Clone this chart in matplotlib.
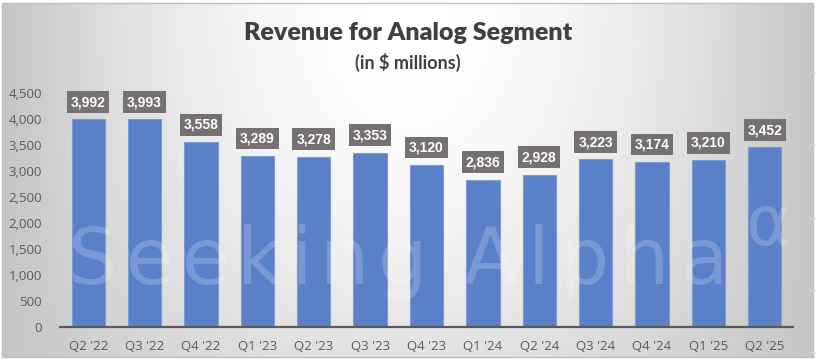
import numpy as np
import matplotlib
matplotlib.use("Agg")
from matplotlib import pyplot as plt

quarters = ["Q2 '22", "Q3 '22", "Q4 '22", "Q1 '23", "Q2 '23", "Q3 '23", "Q4 '23",
            "Q1 '24", "Q2 '24", "Q3 '24", "Q4 '24", "Q1 '25", "Q2 '25"]
revenue = [3992, 3993, 3558, 3289, 3278, 3353, 3120, 2836, 2928, 3223, 3174, 3210, 3452]
yticks = list(range(0, 4501, 500))

W, H = 816, 363
fig = plt.figure(figsize=(W / 100, H / 100), dpi=100)
fig.patch.set_facecolor("white")

# faint spreadsheet cell lines outside the chart
for yy in [0.03, 0.20, 0.40, 0.60, 0.80]:
    fig.add_artist(plt.Line2D([0.993, 1.0], [yy, yy], color="#d9d9d9", lw=0.8))

# chart area with gradient fill
bg = fig.add_axes([2 / W, 6 / H, 811 / W, 354 / H])
u = np.linspace(-1, 1, 400)[None, :]
v = np.linspace(0, 1, 200)[:, None]
shade = 0.77 + 0.23 * (1 - np.abs(u) ** 1.8) * (1 - 0.5 * v ** 2)
bg.imshow(shade, cmap="gray", vmin=0, vmax=1, aspect="auto",
          extent=[0, 1, 0, 1], origin="upper")
bg.set_xlim(0, 1)
bg.set_ylim(0, 1)
bg.set_xticks([])
bg.set_yticks([])
for s in bg.spines.values():
    s.set_color("#bfbfbf")
    s.set_linewidth(1)

ax = fig.add_axes([60 / W, (H - 327) / H, 733 / W, 234 / H])
ax.set_facecolor("none")

x = np.arange(len(quarters))
bars = ax.bar(x, revenue, width=0.59, color="#5A80C8", edgecolor="#7C9CD8",
              linewidth=0.8, zorder=2)

for xi, val in zip(x, revenue):
    ax.annotate(f"{val:,}", (xi, val), xytext=(0, 12.5), textcoords="offset points",
                ha="center", va="center", color="white", fontsize=10,
                fontweight="bold", family="Liberation Sans", zorder=5,
                annotation_clip=False,
                bbox=dict(boxstyle="square,pad=0.28", fc="#767171", ec="none"))

ax.set_xlim(-0.5, len(quarters) - 0.5)
ax.set_ylim(0, 4500)
ax.set_yticks(yticks)
ax.set_yticklabels([f"{t:,}" for t in yticks])
ax.set_xticks(x)
ax.set_xticklabels(quarters)
ax.tick_params(axis="both", length=0, labelsize=9.5, colors="#595959")
ax.tick_params(axis="y", pad=13)
ax.tick_params(axis="x", pad=9)
for lab in ax.get_xticklabels() + ax.get_yticklabels():
    lab.set_family("Open Sans")
for side in ["top", "right", "left"]:
    ax.spines[side].set_visible(False)
ax.spines["bottom"].set_color("#595959")
ax.spines["bottom"].set_linewidth(1.6)
ax.spines["bottom"].set_zorder(3)

# watermark, letter-spaced to fit its span
renderer = fig.canvas.get_renderer()
wm = dict(fontsize=56, color="white", alpha=0.2, family="DejaVu Sans",
          va="baseline", ha="left", zorder=10)


def spaced_word(word, x0, x1, y):
    widths = []
    for ch in word:
        t = fig.text(0, 0, ch, **wm)
        widths.append(t.get_window_extent(renderer).width)
        t.remove()
    gap = (x1 - x0 - sum(widths)) / max(len(word) - 1, 1)
    xp = x0
    for ch, w in zip(word, widths):
        fig.text(xp / W, (H - y) / H, ch, **wm)
        xp += w + gap


spaced_word("Seeking", 68, 427, 284)
spaced_word("Alpha", 463, 728, 284)
fig.text(745 / W, (H - 245) / H, "\u03b1", fontsize=50, color="white", alpha=0.2,
         family="DejaVu Sans", ha="left", va="baseline", zorder=10)

fig.text(0.5, (H - 33) / H, "Revenue for Analog Segment", ha="center", va="center",
         fontsize=18, fontweight="heavy", color="#404040", family="Lato")
fig.text(0.5, (H - 62) / H, "(in $ millions)", ha="center", va="center",
         fontsize=13, fontweight="bold", color="#404040", family="Lato")

fig.savefig("out.png", dpi=100)
